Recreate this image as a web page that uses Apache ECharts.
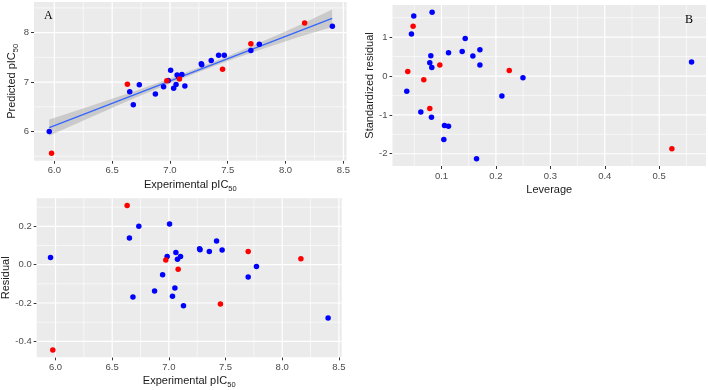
<!DOCTYPE html>
<html><head><meta charset="utf-8">
<script src="https://cdn.jsdelivr.net/npm/echarts@6/dist/echarts.min.js"></script>
<style>html,body{margin:0;padding:0;background:#fff}#c{width:708px;height:390px}</style>
</head><body><div id="c"></div>
<script>
// Panel A / C data (experimental, predicted, residual)
const expBlue  = [5.956, 6.652, 6.735, 6.683, 6.874, 6.945, 6.985, 7.006, 7.032, 7.053, 7.062, 7.076, 7.103, 7.129, 7.271, 7.275, 7.357, 7.421, 7.470, 7.700, 7.773, 8.405];
const predBlue = [6.00, 6.805, 6.945, 6.54, 6.757, 6.906, 7.03, 7.24, 6.875, 6.95, 7.145, 7.105, 7.152, 6.92, 7.37, 7.35, 7.435, 7.545, 7.545, 7.64, 7.765, 8.13];
const resBlue  = [0.037, 0.139, 0.200, -0.169, -0.137, -0.052, 0.043, 0.212, -0.165, -0.122, 0.064, 0.028, 0.043, -0.214, 0.083, 0.078, 0.068, 0.123, 0.077, -0.064, -0.009, -0.278];
const expRed   = [5.976, 6.632, 6.973, 7.082, 7.455, 7.700, 8.165];
const predRed  = [5.56, 6.955, 7.025, 7.065, 7.26, 7.775, 8.195];
const resRed   = [-0.445, 0.308, 0.024, -0.024, -0.205, 0.068, 0.031];
// Fit line and confidence band (panel A)
const fitX = [5.956, 8.403];
const fitY = [6.08, 8.29];
const bandX    = [5.956, 6.3, 6.7, 7.0, 7.25, 7.5, 7.8, 8.1, 8.403];
const bandLow  = [5.915, 6.276, 6.682, 6.973, 7.204, 7.425, 7.671, 7.902, 8.116];
const bandHigh = [6.245, 6.506, 6.822, 7.073, 7.294, 7.525, 7.821, 8.132, 8.466];
// Panel B data (leverage, standardized residual)
const levBlue = [0.0491, 0.0828, 0.0448, 0.1436, 0.1129, 0.138, 0.1706, 0.1577, 0.0804, 0.0785, 0.0822, 0.1706, 0.2497, 0.211, 0.0362, 0.062, 0.0816, 0.1055, 0.1129, 0.1043, 0.1644, 0.5595];
const srBlue  = [1.547, 1.641, 1.085, 0.966, 0.598, 0.632, 0.675, 0.513, 0.521, 0.342, 0.222, 0.282, -0.043, -0.513, -0.393, -0.923, -1.06, -1.274, -1.291, -1.632, -2.128, 0.359];
const levRed  = [0.0479, 0.038, 0.0675, 0.0969, 0.0785, 0.2245, 0.5233];
const srRed   = [1.282, 0.12, -0.094, 0.282, -0.838, 0.145, -1.872];
// Ticks
const aXTicks = [6.0, 6.5, 7.0, 7.5, 8.0, 8.5];
const aXMinor = [6.25, 6.75, 7.25, 7.75, 8.25];
const aYTicks = [6, 7, 8];
const aYMinor = [5.5, 6.5, 7.5, 8.5];
const bXTicks = [0.1, 0.2, 0.3, 0.4, 0.5];
const bXMinor = [0.05, 0.15, 0.25, 0.35, 0.45, 0.55];
const bYTicks = [-2, -1, 0, 1];
const bYMinor = [-1.5, -0.5, 0.5, 1.5];
const cXTicks = aXTicks, cXMinor = aXMinor;
const cYTicks = [-0.4, -0.2, 0.0, 0.2];
const cYMinor = [-0.3, -0.1, 0.1, 0.3];
// Axis ranges
const aX = [5.824, 8.529], aY = [5.41, 8.62];
const bX = [0.010, 0.586], bY = [-2.316, 1.829];
const cX = [5.834, 8.525], cY = [-0.483, 0.346];

const FONT = 'Liberation Sans, Arial, sans-serif';
const nameStyle = {
  color: '#1a1a1a', fontSize: 11, fontFamily: FONT,
  rich: {
    m: {fontSize: 11, fontFamily: FONT, color: '#1a1a1a', lineHeight: 16},
    s: {fontSize: 7.5, fontFamily: FONT, color: '#1a1a1a', lineHeight: 8, verticalAlign: 'bottom'}
  }
};
function axis(gridIndex, range, majors, fmt, name, nameGap) {
  return {
    type: 'value', gridIndex, min: range[0], max: range[1],
    axisLine: {show: false, onZero: false},
    axisTick: {show: true, length: 3, lineStyle: {color: '#333', width: 1}, customValues: majors},
    axisLabel: {customValues: majors, formatter: fmt, color: '#4d4d4d', fontSize: 9.5, fontFamily: FONT, margin: 5},
    splitLine: {show: false},
    name, nameLocation: 'middle', nameGap, nameTextStyle: nameStyle
  };
}
const f1 = v => v.toFixed(1);
const f0 = v => String(Math.round(v));

// panel background and grid lines, drawn through the axis scales
function panelSeries(idx, xr, yr, xMaj, xMin, yMaj, yMin) {
  return {
    type: 'custom', xAxisIndex: idx, yAxisIndex: idx, clip: false,
    data: [[(xr[0] + xr[1]) / 2, (yr[0] + yr[1]) / 2]], silent: true, z: 1,
    renderItem: function (params, api) {
      const tl = api.coord([xr[0], yr[1]]), br = api.coord([xr[1], yr[0]]);
      const ch = [{type: 'rect', shape: {x: tl[0], y: tl[1], width: br[0] - tl[0], height: br[1] - tl[1]}, style: {fill: '#ebebeb'}, z2: 0}];
      const vline = (v, w) => { const p = api.coord([v, yr[0]]); ch.push({type: 'line', shape: {x1: p[0], y1: tl[1], x2: p[0], y2: br[1]}, style: {stroke: '#ffffff', lineWidth: w}, z2: 1}); };
      const hline = (v, w) => { const p = api.coord([xr[0], v]); ch.push({type: 'line', shape: {x1: tl[0], y1: p[1], x2: br[0], y2: p[1]}, style: {stroke: '#ffffff', lineWidth: w}, z2: 1}); };
      xMin.forEach(v => vline(v, 0.6));
      yMin.forEach(v => hline(v, 0.6));
      xMaj.forEach(v => vline(v, 1.2));
      yMaj.forEach(v => hline(v, 1.2));
      return {type: 'group', children: ch};
    }
  };
}

const zip = (a, b) => a.map((v, i) => [v, b[i]]);
const dot = (idx, xs, ys, color) => ({
  type: 'scatter', xAxisIndex: idx, yAxisIndex: idx, data: zip(xs, ys),
  symbolSize: 5.5, itemStyle: {color, opacity: 1}, silent: true, z: 6
});

const gridBase = {show: false, containLabel: false, outerBoundsMode: 'none'};
const option = {
  animation: false,
  backgroundColor: '#ffffff',
  grid: [
    Object.assign({left: 34, top: 2, width: 312.7, height: 158.7}, gridBase),
    Object.assign({left: 392.5, top: 5, width: 313.5, height: 161}, gridBase),
    Object.assign({left: 36.7, top: 198.3, width: 305, height: 159}, gridBase)
  ],
  xAxis: [
    axis(0, aX, aXTicks, f1, '{m|Experimental pIC}{s|50}', 16),
    axis(1, bX, bXTicks, f1, '{m|Leverage}', 16),
    axis(2, cX, cXTicks, f1, '{m|Experimental pIC}{s|50}', 16)
  ],
  yAxis: [
    axis(0, aY, aYTicks, f0, '{m|Predicted pIC}{s|50}', 13),
    axis(1, bY, bYTicks, f0, '{m|Standardized residual}', 11),
    axis(2, cY, cYTicks, f1, '{m|Residual}', 18)
  ],
  series: [
    panelSeries(0, aX, aY, aXTicks, aXMinor, aYTicks, aYMinor),
    panelSeries(1, bX, bY, bXTicks, bXMinor, bYTicks, bYMinor),
    panelSeries(2, cX, cY, cXTicks, cXMinor, cYTicks, cYMinor),
    {
      type: 'custom', xAxisIndex: 0, yAxisIndex: 0, data: [[7, 7]], silent: true, z: 3,
      renderItem: function (params, api) {
        const pts = [];
        for (let i = 0; i < bandX.length; i++) pts.push(api.coord([bandX[i], bandHigh[i]]));
        for (let i = bandX.length - 1; i >= 0; i--) pts.push(api.coord([bandX[i], bandLow[i]]));
        return {type: 'polygon', shape: {points: pts}, style: {fill: 'rgba(153,153,153,0.4)'}};
      }
    },
    {
      type: 'line', xAxisIndex: 0, yAxisIndex: 0, data: zip(fitX, fitY), showSymbol: false,
      lineStyle: {color: '#3366ff', width: 1.3}, silent: true, z: 4
    },
    dot(0, expBlue, predBlue, '#0000ff'),
    dot(0, expRed, predRed, '#ff0000'),
    dot(1, levBlue, srBlue, '#0000ff'),
    dot(1, levRed, srRed, '#ff0000'),
    dot(2, expBlue, resBlue, '#0000ff'),
    dot(2, expRed, resRed, '#ff0000')
  ],
  graphic: [
    {type: 'text', left: 44, top: 10, z: 10, style: {text: 'A', font: '12px "Liberation Serif", serif', fill: '#000'}},
    {type: 'text', left: 685, top: 14, z: 10, style: {text: 'B', font: '12px "Liberation Serif", serif', fill: '#000'}}
  ]
};
const chart = echarts.init(document.getElementById('c'), null, {renderer: 'canvas'});
chart.setOption(option);
</script>
</body></html>
